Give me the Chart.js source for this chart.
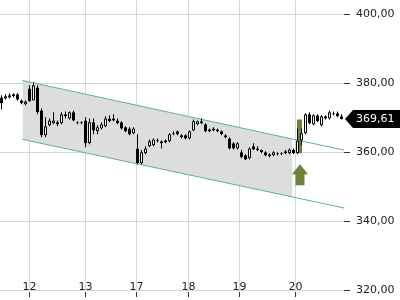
<!DOCTYPE html>
<html>
<head>
<meta charset="utf-8">
<script src="https://cdn.jsdelivr.net/npm/chart.js@4"></script>
<style>
  html, body { margin: 0; padding: 0; background: #fff; }
  #wrap { width: 400px; height: 300px; }
</style>
</head>
<body>
<div id="wrap"><canvas id="chart"></canvas></div>
<script>
// intraday candles, one per slot on the x axis (oldest first)
const opens = [
  375.9, 375.6, 375.9, 376.2, 376.8, 375.0, 373.9, 378.5, 375.0, 378.8,
  372.1, 364.9, 367.8, 368.4, 368.7, 368.4, 370.4, 369.8, 371.6, 368.7,
  368.4, 369.2, 362.6, 368.7, 366.1, 366.9, 367.5, 369.8, 369.8, 369.2,
  368.7, 367.2, 366.9, 365.5, 361.1, 356.8, 359.7, 361.7, 362.0, 363.4,
  363.2, 362.9, 363.2, 365.5, 366.1, 364.9, 364.9, 364.0, 366.3, 368.1,
  369.0, 368.1, 366.6, 366.9, 366.6, 366.1, 364.9, 364.0, 362.6, 361.1,
  360.0, 359.1, 358.2, 361.7, 361.1, 360.6, 360.0, 358.8, 359.1, 359.7,
  359.7, 359.7, 359.7, 360.6, 359.7, 363.4, 365.5, 371.0, 368.1, 370.7,
  367.8, 370.4, 369.8, 371.3, 371.3, 370.4
];
const closes = [
  374.2, 376.2, 376.5, 376.8, 375.3, 374.2, 374.7, 374.7, 379.4, 371.6,
  364.9, 367.5, 369.2, 369.2, 368.1, 371.0, 371.0, 371.6, 369.2, 368.4,
  368.7, 362.6, 368.7, 366.3, 367.2, 368.1, 369.8, 369.0, 369.2, 368.4,
  366.9, 366.1, 365.2, 366.9, 356.8, 360.0, 361.1, 363.2, 363.7, 363.2,
  362.6, 363.4, 365.2, 365.2, 365.2, 364.3, 364.0, 366.1, 369.0, 369.0,
  368.4, 366.1, 366.1, 366.3, 366.1, 365.2, 364.3, 361.1, 361.1, 362.6,
  358.5, 357.9, 361.1, 360.8, 360.6, 360.0, 359.1, 359.4, 360.0, 359.4,
  359.4, 360.3, 360.8, 359.7, 363.4, 365.5, 371.0, 368.4, 370.7, 369.0,
  370.4, 369.8, 371.6, 371.0, 370.4, 369.61
];
const highs = [
  376.5, 376.8, 377.1, 377.1, 377.1, 375.3, 375.0, 379.4, 380.3, 379.4,
  372.7, 370.1, 369.8, 371.6, 369.2, 371.6, 371.8, 371.8, 372.1, 369.0,
  369.0, 370.1, 369.8, 369.8, 367.8, 368.7, 370.4, 370.7, 371.0, 369.8,
  369.0, 367.5, 367.2, 367.2, 365.2, 360.6, 361.7, 363.7, 364.0, 364.0,
  363.4, 363.7, 365.5, 366.1, 366.3, 365.2, 365.2, 366.3, 369.5, 369.2,
  369.8, 368.4, 366.9, 367.2, 366.9, 366.3, 365.2, 364.3, 362.9, 362.9,
  360.6, 359.4, 361.4, 362.6, 361.7, 360.8, 360.3, 359.7, 360.3, 360.0,
  360.0, 360.6, 361.1, 361.1, 366.9, 366.9, 371.3, 371.6, 371.0, 371.0,
  370.7, 370.7, 372.1, 371.8, 371.8, 371.0
];
const lows = [
  372.4, 375.3, 375.6, 375.9, 375.0, 373.9, 373.6, 374.7, 375.0, 371.0,
  364.3, 364.3, 367.5, 368.1, 367.5, 368.1, 369.8, 369.5, 369.0, 368.1,
  368.1, 361.4, 362.3, 365.2, 365.2, 366.6, 367.2, 368.7, 369.0, 368.1,
  366.6, 365.8, 364.9, 365.2, 356.5, 356.5, 359.4, 361.4, 361.7, 362.9,
  361.1, 362.6, 362.9, 364.9, 364.9, 364.0, 363.7, 363.7, 366.1, 367.8,
  368.1, 365.8, 365.8, 366.1, 365.8, 364.9, 364.0, 360.8, 360.8, 360.8,
  358.2, 357.7, 357.9, 360.6, 360.3, 359.7, 358.8, 358.5, 358.8, 359.1,
  359.1, 359.4, 359.4, 359.4, 359.4, 362.0, 365.2, 368.1, 367.8, 368.7,
  367.5, 369.5, 369.5, 370.7, 370.1, 369.5
];

// day labels and the slot where each day's gridline sits
const dayLabels = ['12', '13', '17', '18', '19', '20'];
const dayTicks = [7, 21, 33.75, 46.75, 59.5, 73.5];

const yTicks = [320, 340, 360, 380, 400];

// trend channel: start, end of shading, end of lines (x in slots)
const channelX = [5.25, 72.75, 85.625];
const channelUpper = [380.8, 363.8, 360.6];
const channelLower = [363.7, 347.0, 343.8];

// gap marker
const gapSlot = 74.5;
const gapRange = [359.7, 369.5];
const arrowTip = 356.5;

const lastPrice = closes[closes.length - 1];

function fmt(v) {
  return v.toFixed(2).replace('.', ',');
}

const slots = opens.map((o, i) => i);
const bodies = slots.map(i => ({ x: i, y: [opens[i], closes[i]] }));
const wicks = slots.map(i => ({ x: i, y: [lows[i], highs[i]] }));
const bodyColors = slots.map(i => closes[i] >= opens[i] ? '#ffffff' : '#000000');

const pts = (xs, ys) => xs.map((x, i) => ({ x: x, y: ys[i] }));

// arrow under the gap + last price tag on the axis
const markers = {
  id: 'markers',
  afterDatasetsDraw(chart) {
    const { ctx, scales: { x, y } } = chart;
    const ax = Math.round(x.getPixelForValue(gapSlot));
    const ay = y.getPixelForValue(arrowTip);
    ctx.save();
    ctx.fillStyle = '#6b8237';
    ctx.beginPath();
    ctx.moveTo(ax, ay);
    ctx.lineTo(ax + 8, ay + 10);
    ctx.lineTo(ax + 4.5, ay + 10);
    ctx.lineTo(ax + 4.5, ay + 21);
    ctx.lineTo(ax - 4.5, ay + 21);
    ctx.lineTo(ax - 4.5, ay + 10);
    ctx.lineTo(ax - 8, ay + 10);
    ctx.closePath();
    ctx.fill();
    ctx.restore();
  },
  afterDraw(chart) {
    const { ctx, chartArea, scales: { y } } = chart;
    const py = Math.round(y.getPixelForValue(lastPrice));
    const tip = chartArea.right + 1;
    ctx.save();
    ctx.fillStyle = '#000';
    ctx.beginPath();
    ctx.moveTo(tip, py);
    ctx.lineTo(tip + 8, py - 9);
    ctx.lineTo(400, py - 9);
    ctx.lineTo(400, py + 9);
    ctx.lineTo(tip + 8, py + 9);
    ctx.closePath();
    ctx.fill();
    ctx.fillStyle = '#fff';
    ctx.font = '11px "DejaVu Sans"';
    ctx.textBaseline = 'middle';
    ctx.fillText(fmt(lastPrice), chartArea.right + 12, py + 0.5);
    ctx.restore();
  }
};

new Chart(document.getElementById('chart'), {
  type: 'bar',
  data: {
    datasets: [
      {
        label: 'body',
        data: bodies,
        backgroundColor: bodyColors,
        borderColor: '#000',
        borderWidth: 1,
        borderSkipped: false,
        barThickness: 3,
        minBarLength: 1,
        inflateAmount: 0,
        grouped: false,
        order: 0
      },
      {
        label: 'wick',
        data: wicks,
        backgroundColor: '#000',
        borderWidth: 0,
        barThickness: 1,
        inflateAmount: 0,
        grouped: false,
        order: 1
      },
      {
        label: 'gap',
        data: [{ x: gapSlot, y: gapRange }],
        backgroundColor: '#6b8237',
        borderWidth: 0,
        barThickness: 5,
        inflateAmount: 0,
        grouped: false,
        order: 2
      },
      {
        type: 'line',
        label: 'upper',
        data: pts(channelX, channelUpper),
        borderColor: '#62a9b3',
        borderWidth: 1,
        pointRadius: 0,
        fill: false,
        order: 4
      },
      {
        type: 'line',
        label: 'lower',
        data: pts(channelX, channelLower),
        borderColor: '#62a9b3',
        borderWidth: 1,
        pointRadius: 0,
        fill: false,
        order: 5
      },
      {
        type: 'line',
        label: 'shadeTop',
        data: pts(channelX.slice(0, 2), channelUpper.slice(0, 2)),
        borderWidth: 0,
        borderColor: 'rgba(0,0,0,0)',
        backgroundColor: '#dddddd',
        pointRadius: 0,
        fill: '+1',
        order: 6
      },
      {
        type: 'line',
        label: 'shadeBottom',
        data: pts(channelX.slice(0, 2), channelLower.slice(0, 2)),
        borderWidth: 0,
        borderColor: 'rgba(0,0,0,0)',
        pointRadius: 0,
        fill: false,
        order: 7
      }
    ]
  },
  options: {
    responsive: true,
    maintainAspectRatio: false,
    animation: false,
    layout: { padding: { left: 0, right: 5.5, top: 0, bottom: 10 } },
    plugins: {
      legend: { display: false },
      tooltip: { enabled: false }
    },
    scales: {
      x: {
        type: 'linear',
        bounds: 'data',
        offset: false,
        min: -0.375,
        max: 85.625,
        afterBuildTicks: axis => { axis.ticks = dayTicks.map(v => ({ value: v })); },
        ticks: {
          autoSkip: false,
          maxRotation: 0,
          padding: -16,
          color: '#222',
          font: { family: 'DejaVu Sans', size: 11 },
          callback: (v, i) => dayLabels[i]
        },
        grid: {
          offset: false,
          color: '#d6d6d6',
          tickColor: '#333',
          tickLength: 7,
          tickBorderDash: [0, 2, 5, 20]
        },
        border: { display: false }
      },
      y: {
        position: 'right',
        bounds: 'data',
        min: 320,
        max: 404,
        afterBuildTicks: axis => { axis.ticks = yTicks.map(v => ({ value: v })); },
        ticks: {
          padding: 0,
          color: '#222',
          font: { family: 'DejaVu Sans', size: 11, lineHeight: 0.1 },
          callback: v => fmt(v)
        },
        grid: {
          color: '#d6d6d6',
          tickColor: '#333',
          tickLength: 12,
          tickBorderDash: [6, 20]
        },
        border: { display: false }
      }
    }
  },
  plugins: [markers]
});
</script>
</body>
</html>
